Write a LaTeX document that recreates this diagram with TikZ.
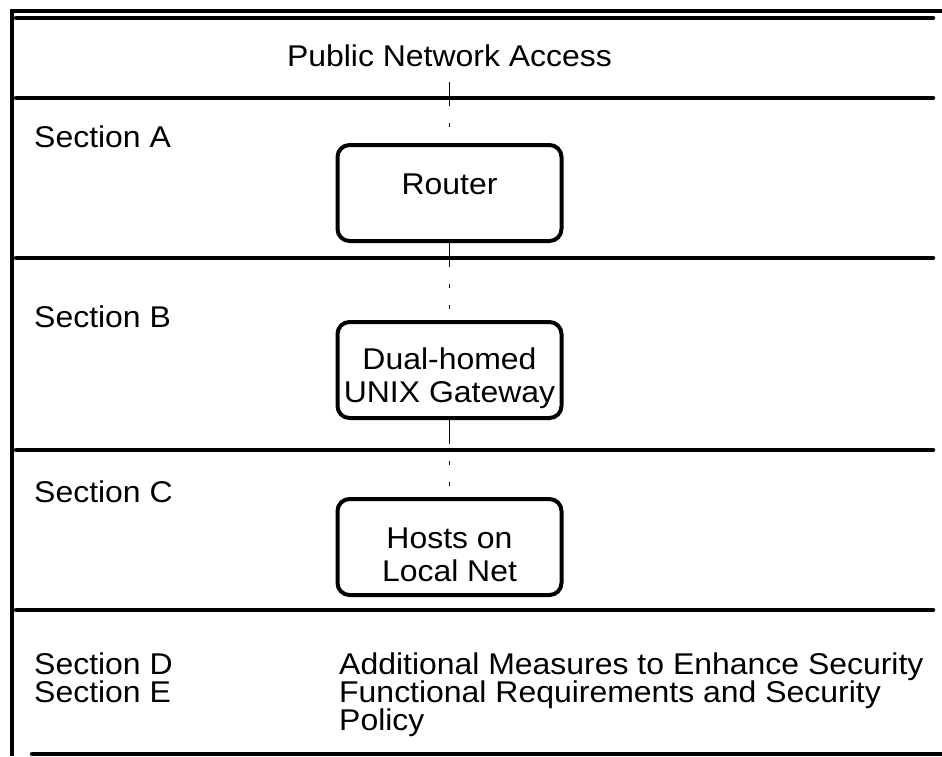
\documentclass[tikz,border=0pt]{standalone}
\usepackage{fontspec}
\setmainfont[FakeStretch=1.065]{Liberation Sans}
\begin{document}
\begin{tikzpicture}[x=1pt,y=-1pt,
section/.style={anchor=base west,align=left,inner sep=0pt,font=\fontsize{30}{28}\selectfont},
device/.style={draw,line width=4pt,rounded corners=12pt,minimum width=224pt,minimum height=96pt,align=center,font=\fontsize{30}{33}\selectfont},
divider/.style={line width=4.5pt,line cap=round},
link/.style={line width=0.8pt,dash pattern=on 24pt off 17pt on 4pt off 17pt on 4pt off 17pt},
]
\useasboundingbox(0,0)rectangle(942,756);

%frame
\draw[line width=4pt](12,756)--(12,11)--(942,11);

%dividers
\draw[divider](16,18)--(933,18);
\draw[divider](16,98)--(933,98);
\draw[divider](16,258)--(933,258);
\draw[divider](16,450)--(933,450);
\draw[divider](16,610)--(933,610);
\draw[divider](32,754)--(946,754);

%section names (base = last line)
\node[section](secA)at(34,147){Section A};
\node[section](secB)at(34,327){Section B};
\node[section](secC)at(34,502){Section C};
\node[section](secDE)at(34,702){Section D\\Section E};
\node[section](extra)at(339,730){Additional Measures to Enhance Security\\Functional Requirements and Security\\Policy};

%devices
\node[anchor=base,inner sep=16pt,font=\fontsize{30}{33}\selectfont](pna)at(449.5,66){Public Network Access};
\node[device,text depth=18pt](router)at(449.5,193){Router};
\node[device,text height=72pt](gateway)at(449.5,370){Dual-homed\\UNIX Gateway};
\node[device,text height=70pt](hosts)at(449.5,547){Hosts on\\Local Net};

%links
\draw[link](pna)--(router);
\draw[link](router)--(gateway);
\draw[link](gateway)--(hosts);

\end{tikzpicture}
\end{document}
